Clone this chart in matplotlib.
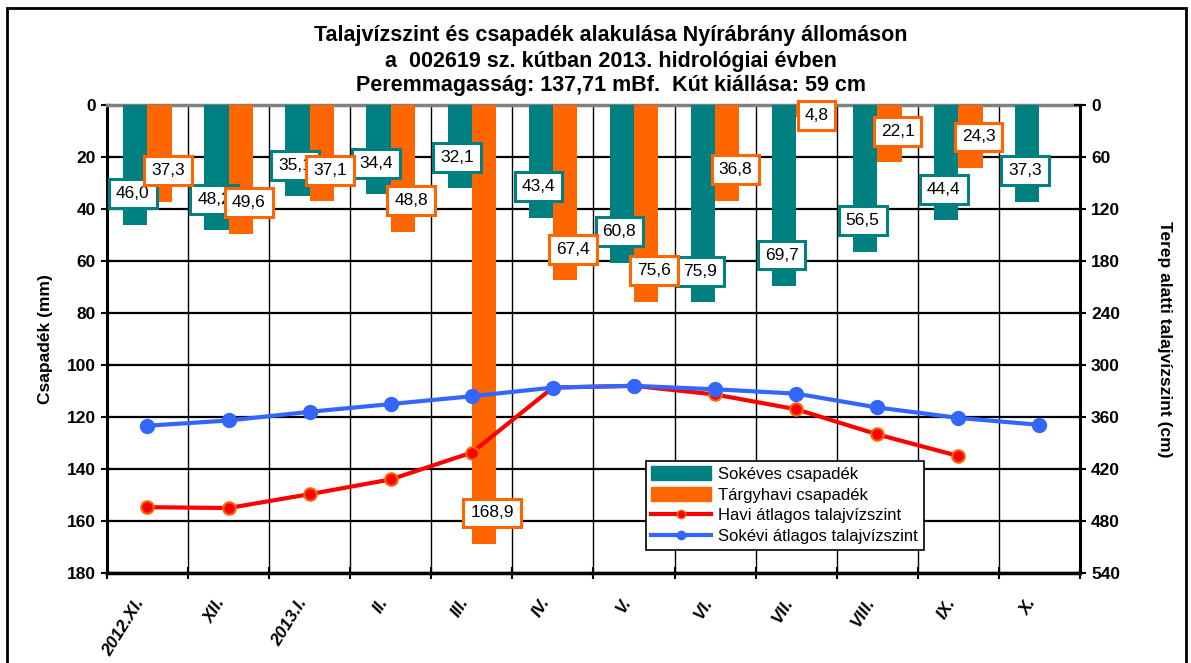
import numpy as np
import matplotlib
matplotlib.use("Agg")
from matplotlib import pyplot as plt
from matplotlib.lines import Line2D
from matplotlib.patches import Patch, Rectangle

plt.rcParams['font.family'] = ['Liberation Sans', 'DejaVu Sans']

# data
months = ["2012.XI.", "XII.", "2013.I.", "II.", "III.", "IV.",
          "V.", "VI.", "VII.", "VIII.", "IX.", "X."]
sokeves = [46.0, 48.2, 35.1, 34.4, 32.1, 43.4, 60.8, 75.9, 69.7, 56.5, 44.4, 37.3]
targyhavi = [37.3, 49.6, 37.1, 48.8, 168.9, 67.4, 75.6, 36.8, 4.8, 22.1, 24.3, np.nan]
havi_tv = [464, 465, 449, 432, 401, 326, 324, 334, 351, 380, 405, np.nan]
sokevi_tv = [370, 364, 354, 345, 336, 326, 324, 328, 333, 349, 361, 369]

teal = "#008080"
orange = "#FF6600"
red = "#FF0000"
blue = "#3366FF"

fig = plt.figure(figsize=(11.91, 6.63), dpi=100)
ax = fig.add_axes([0.0898, 0.1357, 0.8170, 0.7059])

x = np.arange(len(months))
w = 0.3
ax.bar(x - 0.15, sokeves, w, color=teal, zorder=3)
ax.bar(x + 0.15, targyhavi, w, color=orange, zorder=3)

ax.set_xlim(-0.5, 11.5)
ax.set_ylim(180, 0)
ax.set_yticks(np.arange(0, 181, 20))

# grid: horizontal at every 20, vertical between months
for yv in np.arange(20, 181, 20):
    ax.axhline(yv, color="black", lw=1.6, zorder=1)
for xv in np.arange(0.5, 11.5, 1):
    ax.axvline(xv, color="black", lw=1.0, zorder=1)

ax.set_xticks(np.arange(-0.5, 12, 1), minor=False)
ax.set_xticklabels([])
ax.set_xticks(x, minor=True)
ax.set_xticklabels(months, minor=True, rotation=58, ha="right", va="top",
                   fontsize=12.5, fontweight="bold", style="italic")
ax.tick_params(axis="x", which="minor", length=0, pad=16)
ax.tick_params(axis="x", which="major", direction="inout", length=8, width=1.5)
ax.tick_params(axis="y", direction="inout", length=9, width=1.5, labelsize=12.5)
for t in ax.get_yticklabels():
    t.set_fontweight("bold")

ax.spines["left"].set_linewidth(2.2)
ax.spines["bottom"].set_linewidth(2.5)
ax.spines["right"].set_visible(False)
ax.spines["top"].set_color("#808080")
ax.spines["top"].set_linewidth(2.5)
ax.set_ylabel("Csapadék (mm)", fontsize=12.5, fontweight="bold", labelpad=10)

# data labels
lbl = dict(fontsize=12.5, ha="center", va="center", zorder=6)
for i, v in enumerate(sokeves):
    ax.text(i - 0.18, max(v - 12, 4), f"{v:.1f}".replace(".", ","),
            bbox=dict(boxstyle="square,pad=0.4", fc="white", ec=teal, lw=2.2), **lbl)
for i, v in enumerate(targyhavi):
    if np.isnan(v):
        continue
    ax.text(i + 0.25, max(v - 12, 4), f"{v:.1f}".replace(".", ","),
            bbox=dict(boxstyle="square,pad=0.4", fc="white", ec=orange, lw=2.2), **lbl)

# groundwater lines on the right axis
ax2 = ax.twinx()
ax2.set_ylim(540, 0)
ax2.set_yticks(np.arange(0, 541, 60))
ax2.tick_params(axis="y", direction="inout", length=9, width=1.5, labelsize=12.5)
for t in ax2.get_yticklabels():
    t.set_fontweight("bold")
ax2.spines["right"].set_linewidth(2.2)
ax2.spines["left"].set_visible(False)
ax2.spines["bottom"].set_visible(False)
ax2.spines["top"].set_visible(False)
ax2.set_ylabel("Terep alatti talajvízszint (cm)", fontsize=12.5, fontweight="bold",
               rotation=270, labelpad=37)

ax2.plot(x, havi_tv, color=red, lw=3, marker="o", ms=9, mfc=red, mec=orange,
         mew=1.5, zorder=4)
ax2.plot(x, sokevi_tv, color=blue, lw=3, marker="o", ms=10, mfc=blue, mec=blue,
         zorder=5)

handles = [Patch(color=teal), Patch(color=orange),
           Line2D([], [], color=red, lw=3, marker="o", ms=6, mfc=red, mec=orange),
           Line2D([], [], color=blue, lw=3, marker="o", ms=6, mfc=blue, mec=blue)]
labels = ["Sokéves csapadék", "Tárgyhavi csapadék",
          "Havi átlagos talajvízszint", "Sokévi átlagos talajvízszint"]
leg = ax2.legend(handles, labels, loc="upper left", bbox_to_anchor=(0.545, 0.258),
                 fontsize=12, frameon=True, fancybox=False, edgecolor="black",
                 framealpha=1, handlelength=3.6, handleheight=0.9,
                 borderpad=0.35, labelspacing=0.3, handletextpad=0.4)
leg.get_frame().set_linewidth(1.2)
leg.set_zorder(10)

# title
title = ["Talajvízszint és csapadék alakulása Nyírábrány állomáson",
         "a  002619 sz. kútban 2013. hidrológiai évben",
         "Peremmagasság: 137,71 mBf.  Kút kiállása: 59 cm"]
for k, line in enumerate(title):
    fig.text(0.513, 1 - (36 + 25 * k) / 663, line, ha="center", va="center",
             fontsize=15.5, fontweight="bold")

# outer frame
fig.patches.append(Rectangle((0.006, -0.01), 0.99, 0.998, transform=fig.transFigure,
                             fill=False, ec="black", lw=2))

fig.savefig("out.png", dpi=100)
